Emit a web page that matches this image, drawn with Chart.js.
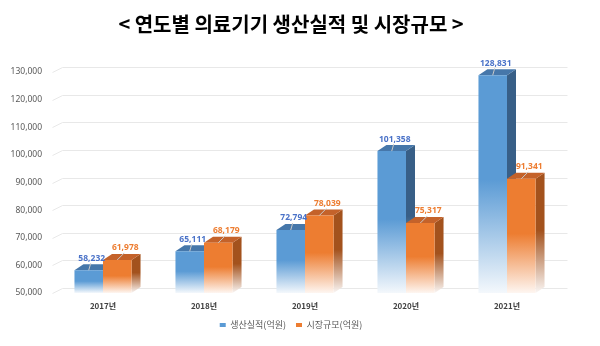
<!DOCTYPE html>
<html>
<head>
<meta charset="utf-8">
<script src="https://cdn.jsdelivr.net/npm/chart.js@4"></script>
<style>
  html, body { margin: 0; padding: 0; background: #fff; }
</style>
</head>
<body>
<canvas id="chart" width="600" height="346"></canvas>
<script>
// Chart data
const years = ['2017년', '2018년', '2019년', '2020년', '2021년'];
const production = [58232, 65111, 72794, 101358, 128831];
const market = [61978, 68179, 78039, 75317, 91341];
const yTicks = [50000, 60000, 70000, 80000, 90000, 100000, 110000, 120000, 130000];
const seriesNames = ['생산실적(억원)', '시장규모(억원)'];

const KR = "'Noto Sans CJK KR', 'Noto Sans', sans-serif";
const NUM = "'Noto Sans', 'Liberation Sans', sans-serif";

// colours per series: front, top face, side face, label; label x shift
const palette = [
    { front: '#5B9BD5', top: '#4677AA', side: '#385F87', label: '#4A72C8', shift: 3 },
    { front: '#ED7D31', top: '#C4622A', side: '#A3521D', label: '#ED7D31', shift: 8 }
];
const DX = 9, DY = 6;

// mix a colour towards white (opaque)
function pale(hex, t) {
    const n = parseInt(hex.slice(1), 16);
    const m = v => Math.round(v + (255 - v) * t);
    return `rgb(${m(n >> 16)},${m((n >> 8) & 255)},${m(n & 255)})`;
}

function fadeGrad(ctx, c, top, bot, paleTo) {
    const g = ctx.createLinearGradient(0, top, 0, bot);
    g.addColorStop(0, c);
    g.addColorStop(0.48, c);
    g.addColorStop(1, pale(c, paleTo));
    return g;
}

function frontFill(i) {
    return (ctx) => {
        const c = palette[i].front;
        if (ctx.type !== 'data') return c;
        const chart = ctx.chart;
        const y = chart.scales.y;
        if (!chart.chartArea || !y) return c;
        const top = y.getPixelForValue(ctx.raw);
        const bot = y.getPixelForValue(yTicks[0]);
        if (!isFinite(top) || bot - top < 1) return c;
        return fadeGrad(chart.ctx, c, top, bot, 0.93);
    };
}

// back-wall gridlines with a small 3D bend at the left
const wallGrid = {
    id: 'wallGrid',
    beforeDatasetsDraw(chart) {
        const { ctx, chartArea, scales } = chart;
        ctx.save();
        ctx.strokeStyle = '#e8e8e8';
        ctx.lineWidth = 1;
        yTicks.forEach(v => {
            const py = Math.round(scales.y.getPixelForValue(v)) + 0.5;
            ctx.beginPath();
            ctx.moveTo(chartArea.left, py);
            ctx.lineTo(chartArea.left + 10, py - 5);
            ctx.lineTo(chartArea.right + 10, py - 5);
            ctx.stroke();
        });
        ctx.restore();
    }
};

// side and top faces go under the fronts, labels go on top
const bars3d = {
    id: 'bars3d',
    beforeDatasetsDraw(chart) {
        const { ctx } = chart;
        const base0 = chart.scales.y.getPixelForValue(yTicks[0]);
        ctx.save();
        chart.data.datasets.forEach((ds, i) => {
            const p = palette[i];
            chart.getDatasetMeta(i).data.forEach(el => {
                const { x, y, width } = el.getProps(['x', 'y', 'width'], true);
                const l = x - width / 2, r = x + width / 2;
                ctx.fillStyle = fadeGrad(ctx, p.side, y - DY, base0, 0.95);
                ctx.beginPath();
                ctx.moveTo(r, y);
                ctx.lineTo(r + DX, y - DY);
                ctx.lineTo(r + DX, base0 - DY);
                ctx.lineTo(r, base0);
                ctx.closePath();
                ctx.fill();
                ctx.fillStyle = p.top;
                ctx.beginPath();
                ctx.moveTo(l, y);
                ctx.lineTo(l + DX, y - DY);
                ctx.lineTo(r + DX, y - DY);
                ctx.lineTo(r, y);
                ctx.closePath();
                ctx.fill();
            });
        });
        ctx.restore();
    },
    afterDatasetsDraw(chart) {
        const { ctx } = chart;
        ctx.save();
        ctx.font = `bold 8.5px ${NUM}`;
        ctx.textAlign = 'center';
        ctx.textBaseline = 'middle';
        chart.data.datasets.forEach((ds, i) => {
            const p = palette[i];
            chart.getDatasetMeta(i).data.forEach((el, j) => {
                const { x, y } = el.getProps(['x', 'y'], true);
                ctx.strokeStyle = '#c8c8c8';
                ctx.lineWidth = 1;
                ctx.beginPath();
                ctx.moveTo(x + p.shift - 1, y - DY - 1);
                ctx.lineTo(x, y);
                ctx.stroke();
                ctx.fillStyle = p.label;
                ctx.fillText(ds.data[j].toLocaleString('en-US'), x + p.shift, y - DY - 6);
            });
        });
        ctx.restore();
    }
};

new Chart(document.getElementById('chart'), {
    type: 'bar',
    data: {
        labels: years,
        datasets: [
            { label: seriesNames[0], data: production, backgroundColor: frontFill(0), borderWidth: 0 },
            { label: seriesNames[1], data: market, backgroundColor: frontFill(1), borderWidth: 0 }
        ]
    },
    options: {
        responsive: false,
        animation: false,
        barPercentage: 1,
        categoryPercentage: 0.565,
        layout: { padding: { left: 0, right: 18, top: 0, bottom: 6.5 } },
        plugins: {
            title: {
                display: true,
                text: '< 연도별 의료기기 생산실적 및 시장규모 >',
                color: '#000',
                font: { family: KR, size: 20, weight: 'bold' },
                padding: { top: 12, bottom: 36 }
            },
            legend: {
                position: 'bottom',
                labels: {
                    boxWidth: 6,
                    boxHeight: 4,
                    padding: 10,
                    color: '#595959',
                    font: { family: KR, size: 9 },
                    generateLabels: chart =>
                        Chart.defaults.plugins.legend.labels.generateLabels(chart).map(l => ({
                            ...l,
                            fillStyle: palette[l.datasetIndex].front,
                            strokeStyle: palette[l.datasetIndex].front,
                            lineWidth: 0
                        }))
                }
            },
            tooltip: { enabled: false }
        },
        scales: {
            x: {
                afterFit: s => { s.height = 17.5; },
                grid: { display: false, drawTicks: false },
                border: { display: false },
                ticks: { color: '#404040', padding: 8, font: { family: KR, size: 8, weight: 'bold' } }
            },
            y: {
                min: yTicks[0],
                max: yTicks[yTicks.length - 1],
                afterBuildTicks: s => { s.ticks = yTicks.map(v => ({ value: v })); },
                afterFit: s => { s.width = 52.5; },
                grid: { display: false, drawTicks: false },
                border: { display: false },
                ticks: {
                    color: '#595959',
                    padding: 10.5,
                    font: { family: NUM, size: 8.5 },
                    callback: v => v.toLocaleString('en-US')
                }
            },
            yRight: {
                position: 'right',
                grid: { display: false, drawTicks: false },
                border: { display: false },
                ticks: { display: false },
                afterFit: s => { s.width = 24.5; }
            }
        }
    },
    plugins: [wallGrid, bars3d]
});
</script>
</body>
</html>
